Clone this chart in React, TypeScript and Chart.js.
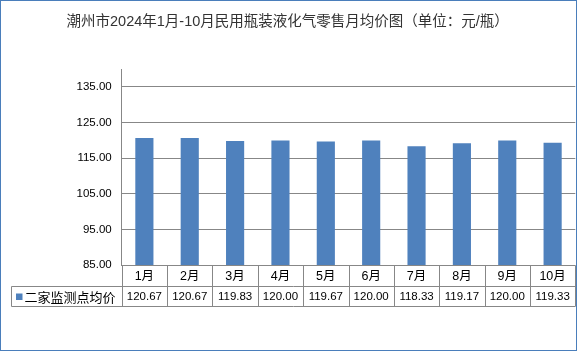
import React, { useEffect, useRef } from "react";
import { Chart, registerables } from "chart.js";

Chart.register(...registerables);

const titleText = "潮州市2024年1月-10月民用瓶装液化气零售月均价图（单位：元/瓶）";
const categories = ["1月", "2月", "3月", "4月", "5月", "6月", "7月", "8月", "9月", "10月"];
const seriesName = "二家监测点均价";
const values = [120.67, 120.67, 119.83, 120.0, 119.67, 120.0, 118.33, 119.17, 120.0, 119.33];
const yTicks = [85, 95, 105, 115, 125, 135];
const yMin = 85;
const yMax = 140;

const BAR_COLOR = "#4f81bd";
const GRID_COLOR = "#878787";
const FONT_NUM = "'Liberation Sans', 'Noto Sans CJK SC', sans-serif";
const FONT_CJK = "'Noto Sans CJK SC', 'Liberation Sans', sans-serif";

const tablePlugin = {
  id: "dataTable",
  afterDraw(chart: any) {
    const ctx = chart.ctx;
    const area = chart.chartArea;
    const xs = chart.scales.x;
    const n = categories.length;
    const colW = (area.right - area.left) / n;
    const top = Math.round(area.bottom) + 0.5;
    const r1 = top + 21;
    const r2 = r1 + 20;
    const legendLeft = 11.5;
    ctx.save();
    ctx.strokeStyle = GRID_COLOR;
    ctx.lineWidth = 1;
    ctx.beginPath();
    ctx.moveTo(area.left, top);
    ctx.lineTo(area.right, top);
    ctx.moveTo(legendLeft, r1);
    ctx.lineTo(area.right, r1);
    ctx.moveTo(legendLeft, r2);
    ctx.lineTo(area.right, r2);
    ctx.moveTo(legendLeft, r1);
    ctx.lineTo(legendLeft, r2);
    for (let i = 0; i <= n; i++) {
      const x = Math.round(area.left + i * colW) + 0.5;
      ctx.moveTo(x, top);
      ctx.lineTo(x, r2);
    }
    ctx.stroke();

    ctx.fillStyle = "#000";
    ctx.textAlign = "center";
    ctx.textBaseline = "middle";
    for (let i = 0; i < n; i++) {
      const cx = xs.getPixelForValue(i);
      ctx.font = `12.5px ${FONT_NUM}`;
      ctx.fillText(categories[i], cx, (top + r1) / 2 + 0.5);
      ctx.font = `11.5px ${FONT_NUM}`;
      ctx.fillText(values[i].toFixed(2), cx, (r1 + r2) / 2 + 0.5);
    }
    // legend key
    ctx.fillStyle = BAR_COLOR;
    ctx.fillRect(16, (r1 + r2) / 2 - 3, 6.5, 6.5);
    ctx.fillStyle = "#000";
    ctx.textAlign = "left";
    ctx.font = `13px ${FONT_CJK}`;
    ctx.fillText(seriesName, 24.5, (r1 + r2) / 2 + 0.5);

    // outer border
    ctx.strokeStyle = "#4a7ebb";
    ctx.lineWidth = 1;
    ctx.strokeRect(0.5, 0.5, 576, 350);
    ctx.restore();
  },
};

export default function App() {
  const ref = useRef<HTMLCanvasElement | null>(null);
  useEffect(() => {
    if (!ref.current) return;
    const chart = new Chart(ref.current, {
      type: "bar",
      data: {
        labels: categories,
        datasets: [
          {
            label: seriesName,
            data: values,
            backgroundColor: BAR_COLOR,
            borderWidth: 0,
            categoryPercentage: 1,
            barPercentage: 0.4,
          },
        ],
      },
      options: {
        animation: false,
        responsive: false,
        devicePixelRatio: 1,
        layout: { padding: { left: 0, right: 2.7, top: 0, bottom: 0 } },
        plugins: {
          legend: { display: false },
          tooltip: { enabled: false },
          title: {
            display: true,
            text: titleText,
            color: "#333",
            font: { size: 14.5, family: FONT_NUM, weight: "normal", lineHeight: 1.2 },
            padding: { top: 13.3, bottom: 38.3 },
          },
        },
        scales: {
          x: {
            ticks: { display: false },
            grid: { display: false },
            border: { display: false },
            afterFit: (s: any) => {
              s.height = 352 - 265.3;
            },
          },
          y: {
            min: yMin,
            max: yMax,
            afterBuildTicks: (s: any) => {
              s.ticks = yTicks.map((v) => ({ value: v }));
            },
            afterFit: (s: any) => {
              s.width = 121.7;
            },
            ticks: {
              color: "#000",
              padding: 10,
              font: { size: 11.5, family: FONT_NUM },
              callback: (v: any) => Number(v).toFixed(2),
            },
            grid: { color: GRID_COLOR, drawTicks: false, lineWidth: 1 },
            border: { display: true, color: GRID_COLOR, width: 1 },
          },
        },
      },
      plugins: [tablePlugin],
    });
    return () => chart.destroy();
  }, []);
  return (
    <div style={{ position: "fixed", left: 0, top: 0, width: 578, height: 352, background: "#fff" }}>
      <canvas ref={ref} width={578} height={352} style={{ width: 578, height: 352, display: "block" }} />
    </div>
  );
}
